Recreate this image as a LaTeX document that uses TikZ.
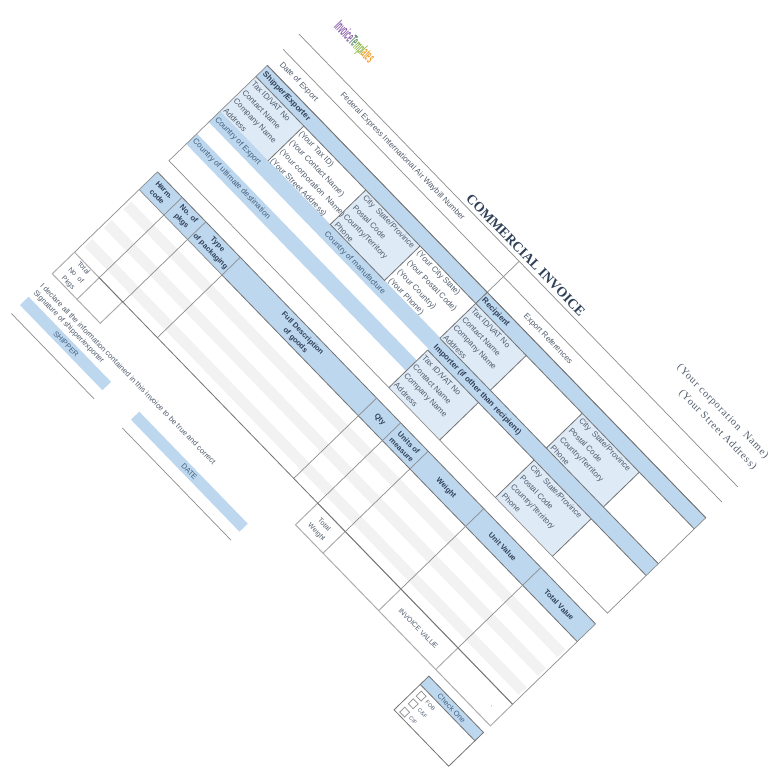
\documentclass[tikz,border=0pt]{standalone}
\usepackage{fontspec}
\setmainfont{Liberation Sans}
\newfontfamily\invoiceserif{Liberation Serif}
\usepackage{amsmath}
\definecolor{bandblue}{HTML}{BDD7EE}
\definecolor{cellblue}{HTML}{DEEAF6}
\definecolor{stripegray}{HTML}{F2F2F2}
\definecolor{inktext}{HTML}{4F5B6B}
\definecolor{bandtext}{HTML}{44607F}
\definecolor{headtext}{HTML}{2F4058}
\definecolor{logoa}{HTML}{8A5FA8}
\definecolor{logob}{HTML}{5F8F6A}
\definecolor{logoc}{HTML}{8DB84A}
\definecolor{logod}{HTML}{F0A030}
\tikzset{
  rulegray/.style={draw=black!45, line width=0.7pt},
  ruledark/.style={draw=black!55, line width=0.8pt},
  rulelight/.style={draw=black!32, line width=1pt},
  celltext/.style={anchor=west, inner sep=0pt, text=inktext, font=\fontsize{8}{8}\selectfont},
  bandlabel/.style={anchor=west, inner sep=0pt, text=bandtext, font=\fontsize{8}{8}\selectfont},
  bandhead/.style={anchor=west, inner sep=0pt, text=headtext, font=\bfseries\fontsize{8}{8}\selectfont},
  colhead/.style={inner sep=0pt, align=center, text=headtext, font=\bfseries\fontsize{7.5}{10}\selectfont},
  smalltext/.style={inner sep=0pt, align=center, text=inktext, font=\fontsize{7}{10.5}\selectfont},
}
\begin{document}
\begin{tikzpicture}
\useasboundingbox (0,0) rectangle (782pt,-768pt);
\begin{scope}[x=1pt, y=1pt, rotate=-45.9, transform shape]
% bands and shaded cells
\fill[bandblue] (233,130.5) rectangle (863,146.5);
\fill[bandblue] (233,65) rectangle (549,81);
\fill[bandblue] (233,33.5) rectangle (549,48.5);
\fill[bandblue] (549,63.5) rectangle (863,80.5);
\foreach \x/\w in {233/302,391/469,549/621.5,702/784}{
	\fill[cellblue] (\x,81) rectangle (\w,130.5);
}
\foreach \x/\w in {549/622,702/784}{
	\fill[cellblue] (\x,10) rectangle (\w,63.5);
}
\fill[bandblue] (233,-32) rectangle (862.5,-6.5);
\foreach \y in {-57,-84,-111}{
	\fill[stripegray] (236,\y) rectangle (860,\y+11);
}
\fill[bandblue] (233,-198) rectangle (351.5,-186);
\fill[bandblue] (392.5,-198) rectangle (548.5,-186.5);
\fill[bandblue] (784,-174.5) rectangle (862.5,-162.5);
% rules above the tables
\draw[rulegray] (232.5,191)--(863,191);
\draw[rulegray] (232.5,169)--(863,169);
\draw[rulegray] (549,191)--(549,146.5);
% upper table
\draw[rulegray] (233,9.5) rectangle (863,146.5);
\draw[ruledark] (233,146.5)--(863,146.5);
\draw[ruledark] (233,130.5)--(863,130.5);
\draw[ruledark] (549,80.5)--(863,80.5);
\draw[ruledark] (549,63.5)--(863,63.5);
\draw[ruledark] (549,146.5)--(549,80.5);
\draw[ruledark] (549,63.5)--(549,9.5);
\foreach \x in {302,391,469,621.5,702,784}{
	\draw[ruledark] (\x,80.5)--(\x,130.5);
}
\foreach \x in {622,702,784}{
	\draw[ruledark] (\x,9.5)--(\x,63.5);
}
\draw[ruledark] (391,81)--(469,81);
% goods table
\draw[ruledark] (233,-6.5)--(862.5,-6.5);
\draw[rulegray] (233,-32)--(352,-32);
\draw[ruledark] (352,-32)--(862.5,-32);
\foreach \x in {233,268.5,302.5,352,548,582.5,622,702,784,862.5}{
	\draw[rulegray] (\x,-6.5)--(\x,-122);
}
\draw[rulelight] (233,-153) rectangle (302,-122);
\draw[rulelight] (268.5,-153)--(268.5,-122);
\draw[rulelight] (582.5,-153) rectangle (862.5,-122);
\foreach \x in {622,702,784}{
	\draw[rulelight] (\x,-153)--(\x,-122);
}
\draw[ruledark] (268,-122)--(862.5,-122);
% signature lines
\draw[rulegray] (233,-210)--(352,-210);
\draw[rulegray] (392.5,-210)--(548.5,-210);
% check box
\draw[ruledark] (784,-211) rectangle (862.5,-162.5);
\draw[ruledark] (784,-174.5)--(862.5,-174.5);
\foreach \y in {-182,-193,-205}{
	\draw[rulegray] (789.5,\y-3.5) rectangle (796.5,\y+3.5);
}
% heading
\node[anchor=center, inner sep=0pt, text=headtext, font=\invoiceserif\bfseries\fontsize{13.8}{13.8}\selectfont] (title) at (549,200) {COMMERCIAL INVOICE};
\node[anchor=east, inner sep=0pt, text=inktext, font=\invoiceserif\fontsize{10.5}{10.5}\selectfont] (corpname) at (862,232.5) {\addfontfeature{LetterSpace=8}(Your corporation\ \ Name)};
\node[anchor=east, inner sep=0pt, text=inktext, font=\invoiceserif\fontsize{10.5}{10.5}\selectfont] (corpaddr) at (862,216) {\addfontfeature{LetterSpace=8}(Your Street Address)};
\node[inner sep=0pt, xscale=0.38, font=\bfseries\fontsize{16}{16}\selectfont] (logo) at (277,224.5) {\textcolor{logoa}{Invoice}\textcolor{logob}{Te}\textcolor{logoc}{mpl}\textcolor{logod}{ates}};
\node[celltext] (dateexport) at (241,157.5) {Date of Export};
\node[celltext] (waybill) at (305,180) {Federal Express International Air Waybill Number};
\node[celltext] (exportref) at (591.5,157.5) {Export References};
% upper table labels
\node[bandhead] (shipperhead) at (236,138.5) {Shipper/Exporter};
\node[bandhead] (recipienthead) at (551,138.5) {Recipient};
\node[bandhead] (importerhead) at (551,71.5) {Importer (if other than recipient)};
\node[bandlabel] (countryexport) at (235.5,72.5) {Country of Export};
\node[bandlabel] (countrymanuf) at (394,71.5) {Country of manufacture};
\node[bandlabel] (countrydest) at (235.5,41.5) {Country of ultimate destination};
\foreach \blk/\x/\y in {shipper/235/0,recipient/551/0,importer/551/-68.5}{
	\foreach \n/\d/\t in {1/124.5/{Tax ID/VAT No},2/111.5/Contact Name,3/98.5/Company Name,4/85.5/Address}{
		\node[celltext] (\blk\n) at (\x,\y+\d) {\t};
	}
}
\foreach \n/\d/\t in {1/123/(Your Tax ID),2/110/(Your Contact Name),3/96.5/(Your corporation\ \ Name),4/83.5/(Your Street Address)}{
	\node[celltext] (yourcorp\n) at (304,\d) {\t};
}
\foreach \blk/\x/\y in {citya/394.5/0,cityb/705/0,cityc/705/-68}{
	\foreach \n/\d/\t in {1/124.5/{City\ \ State/Province},2/111/Postal Code,3/97.5/{Country/Territory},4/85.5/Phone}{
		\node[celltext] (\blk\n) at (\x,\y+\d) {\t};
	}
}
\foreach \n/\d/\t in {1/124.5/(Your City State),2/111/(Your Postal Code),3/97.5/(Your Country),4/85/(Your Phone)}{
	\node[celltext] (yourcity\n) at (472,\d) {\t};
}
% goods table labels
\node[colhead] (harm) at (250.7,-19.2) {Harm.\\code};
\node[colhead] (pkgs) at (285,-18.7) {No. of\\pkgs};
\node[colhead] (packaging) at (327,-19.2) {Type\\of packaging};
\node[colhead] (goods) at (450,-20) {Full Description\\of goods};
\node[colhead] (qty) at (565.5,-19.3) {Qty};
\node[colhead] (units) at (602.5,-19.6) {Units of\\measure};
\node[colhead] (weight) at (661,-19.5) {Weight};
\node[colhead] (unitvalue) at (742.5,-19.5) {Unit Value};
\node[colhead] (totalvalue) at (823.5,-19.5) {Total Value};
\node[smalltext] (totalpkgs) at (250.7,-137.5) {Total\\No\ \ of\\Pkgs};
\node[smalltext] (totalweight) at (602.5,-138) {Total\\Weight};
\node[smalltext] (invoicevalue) at (742.5,-137) {INVOICE VALUE};
\fill[black!35] (849,-138.3) circle (0.6);
% signature labels
\node[celltext, font=\fontsize{7.6}{7.6}\selectfont] (declare) at (233.5,-168.3) {I declare all the information contained in this invoice to be true and correct};
\node[celltext, font=\fontsize{7.6}{7.6}\selectfont] (signature) at (233.5,-178.3) {Signature of shipper/exporter};
\node[bandlabel, anchor=center, font=\fontsize{7.4}{7.4}\selectfont] (shipper) at (293,-192) {SHIPPER};
\node[bandlabel, anchor=center, font=\fontsize{7.4}{7.4}\selectfont] (date) at (470.5,-192.3) {DATE};
% check box labels
\node[bandlabel, anchor=center, font=\fontsize{7.4}{7.4}\selectfont] (checkone) at (823,-168.7) {Check One};
\foreach \y/\t in {-182/FOB,-193/C\&F,-205/CIF}{
	\node[celltext, font=\fontsize{5.5}{5.5}\selectfont] (box\y) at (800.5,\y) {\t};
}
\end{scope}
\end{tikzpicture}
\end{document}
